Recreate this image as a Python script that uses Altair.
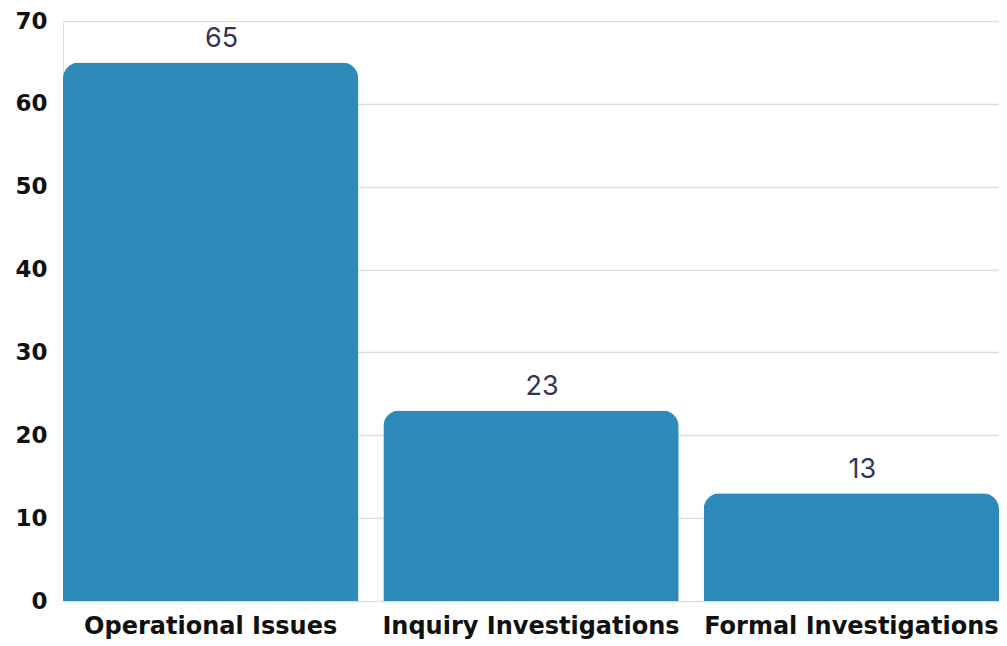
import altair as alt
import pandas as pd

categories = ["Operational Issues", "Inquiry Investigations", "Formal Investigations"]
values = [65, 23, 13]

df = pd.DataFrame({"category": categories, "value": values})

base = alt.Chart(df).encode(
    x=alt.X("category:N", sort=categories, title=None,
            scale=alt.Scale(paddingInner=0.078, paddingOuter=0.0),
            axis=alt.Axis(labelAngle=0, labelFont="DejaVu Sans", labelFontWeight="bold",
                          labelFontSize=24, labelColor="#111111", labelPadding=13,
                          labelLimit=0, domain=False, ticks=False)),
    y=alt.Y("value:Q", title=None,
            scale=alt.Scale(domain=[0, 70]),
            axis=alt.Axis(values=[0, 10, 20, 30, 40, 50, 60, 70], labelFont="DejaVu Sans",
                          labelFontWeight="bold", labelFontSize=23, labelColor="#111111",
                          labelPadding=16, domain=False, ticks=False,
                          gridColor="#dddddd", gridWidth=1.5)),
)

bars = base.mark_bar(color="#2E8AB8", cornerRadiusTopLeft=16, cornerRadiusTopRight=16)
labels = base.mark_text(baseline="alphabetic", dy=-15, dx=11, font="Inter", fontSize=27,
                        fontWeight="normal", color="#34345a").encode(text="value:Q")

chart = (bars + labels).properties(
    width=936, height=580,
    padding={"left": 55, "top": 13, "right": 0, "bottom": 40},
    autosize=alt.AutoSizeParams(type="none"),
).configure_view(stroke=None).configure(background="white")

chart.save("out.html", embed_options={"renderer": "svg", "actions": False})
